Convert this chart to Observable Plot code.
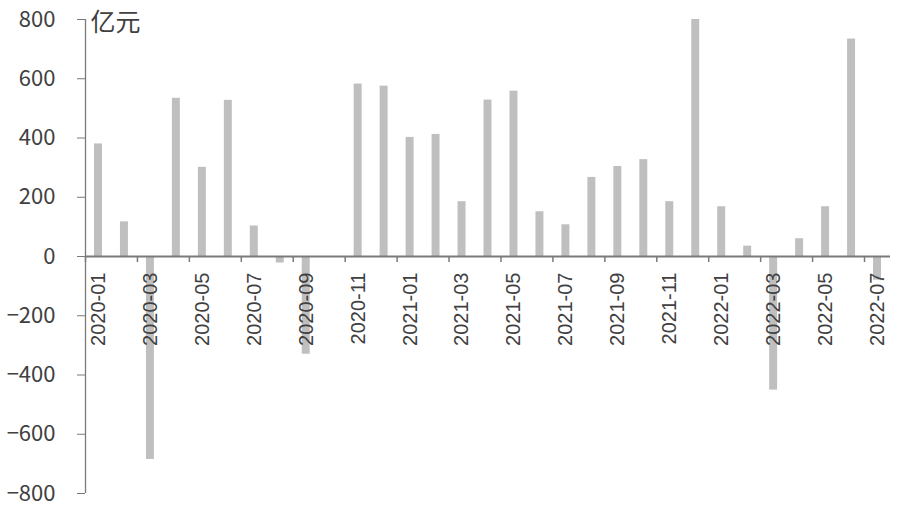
<!DOCTYPE html>
<html>
<head>
<meta charset="utf-8">
<script src="https://cdn.jsdelivr.net/npm/d3@7"></script>
<script src="https://cdn.jsdelivr.net/npm/@observablehq/plot@0.6"></script>
<style>
  html, body { margin: 0; padding: 0; background: #fff; }
  #chart svg { display: block; }
</style>
</head>
<body>
<div id="chart"></div>
<script>
const months = [
  "2020-01","2020-02","2020-03","2020-04","2020-05","2020-06","2020-07","2020-08","2020-09","2020-10","2020-11","2020-12",
  "2021-01","2021-02","2021-03","2021-04","2021-05","2021-06","2021-07","2021-08","2021-09","2021-10","2021-11","2021-12",
  "2022-01","2022-02","2022-03","2022-04","2022-05","2022-06","2022-07"
];
const values = [
  380, 117, -685, 534, 301, 527, 103, -22, -330, null, 582, 575,
  402, 412, 185, 528, 558, 151, 107, 267, 304, 327, 185, 800,
  168, 35, -451, 60, 168, 734, -80
];
const yTicks = [-800, -600, -400, -200, 0, 200, 400, 600, 800];
const unitLabel = "亿元";

const data = months.map((m, i) => ({month: m, i, value: values[i]}));
const labeled = data.filter(d => d.i % 2 === 0);

const axisColor = "#7a7a7a";
const textColor = "#404040";

const chart = Plot.plot({
  width: 900,
  height: 510,
  marginLeft: 85,
  marginRight: 10,
  marginTop: 19,
  marginBottom: 17,
  x: {domain: [0, months.length], axis: null},
  y: {domain: [-800, 800], axis: null},
  style: {fontFamily: "'Noto Sans CJK SC', sans-serif", background: "#fff"},
  marks: [
    Plot.rectY(data.filter(d => d.value != null), {
      x1: d => d.i, x2: d => d.i + 1, y1: 0, y2: "value",
      insetLeft: 9, insetRight: 9, fill: "#bfbfbf"
    }),
    // y axis
    Plot.axisY({
      ticks: yTicks, tickSize: 8, tickPadding: 22, fontSize: 22,
      stroke: axisColor, color: textColor, label: null,
      fontFamily: "'Noto Sans CJK SC', sans-serif"
    }),
    Plot.ruleX([0], {y1: -800, y2: 800, stroke: axisColor, strokeWidth: 1.3}),
    // x axis line at zero
    Plot.ruleY([0], {x1: 0, x2: months.length, stroke: axisColor, strokeWidth: 2}),
    // x tick marks at category boundaries (every other month)
    Plot.ruleX(labeled, {x: d => d.i, y1: 0, y2: 0, insetBottom: -6, stroke: axisColor, strokeWidth: 1.5}),
    // x labels
    Plot.text(labeled, {
      x: d => d.i + 0.5, y: 0, text: "month", rotate: -90,
      textAnchor: "end", lineAnchor: "middle", dy: 16,
      fontSize: 20, fill: textColor,
      fontFamily: "'Liberation Sans', Arial, sans-serif"
    }),
    // unit label
    Plot.text([unitLabel], {
      frameAnchor: "top-left", dx: 5, dy: -6, lineAnchor: "top",
      fontSize: 25, fill: textColor,
      fontFamily: "'Noto Sans CJK SC', sans-serif"
    })
  ]
});
document.getElementById("chart").append(chart);
</script>
</body>
</html>
